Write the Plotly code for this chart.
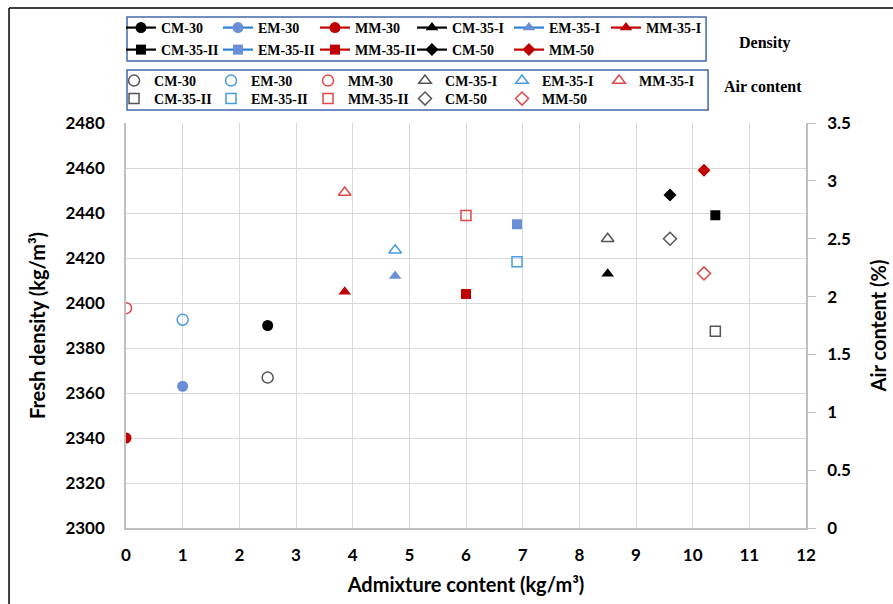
"""Fresh density and air content versus admixture content."""

import plotly.graph_objects as go

MIXES = ["CM-30", "EM-30", "MM-30", "CM-35-I", "EM-35-I", "MM-35-I",
         "CM-35-II", "EM-35-II", "MM-35-II", "CM-50", "MM-50"]
ADMIXTURE = [2.5, 1.0, 0.0, 8.5, 4.75, 3.86, 10.4, 6.9, 6.0, 9.6, 10.2]
DENSITY = [2390, 2363, 2340, 2413, 2412, 2405, 2439, 2435, 2404, 2448, 2459]
AIR_CONTENT = [1.3, 1.8, 1.9, 2.5, 2.4, 2.9, 1.7, 2.3, 2.7, 2.5, 2.2]

SYMBOLS = ["circle", "circle", "circle", "triangle-up", "triangle-up", "triangle-up",
           "square", "square", "square", "diamond", "diamond"]
FAMILY = ["black", "blue", "red", "black", "blue", "red",
          "black", "blue", "red", "black", "red"]

LINE_COLORS = {"black": "#000000", "blue": "#2E80D0", "red": "#C00000"}
FILL_COLORS = {"black": "#000000", "blue": "#6A8FD6", "red": "#C00000"}
OPEN_COLORS = {"black": "#555555", "blue": "#4A9BE0", "red": "#E04848"}
SIZES = {"circle": 11, "triangle-up": 11, "square": 10, "diamond": 10}

GRID = "#D9D9D9"
AXIS = "#BFBFBF"
BOX = "#4169AA"
SANS = "Lato, Arial, sans-serif"
SERIF = "Liberation Serif, Times New Roman, serif"
TICK_FONT = {"family": SANS, "size": 17, "color": "#000000", "weight": "bold"}
TITLE_FONT = {"family": SANS, "size": 20, "color": "#000000", "weight": "bold"}
LEGEND_FONT = {"family": SERIF, "size": 14, "color": "#000000", "weight": "bold"}

# 6 entries in the first row, the rest in the second row of each legend box
ROW_SPLIT = 6

fig = go.Figure()

for i, (name, x, dens, sym, fam) in enumerate(zip(MIXES, ADMIXTURE, DENSITY, SYMBOLS, FAMILY)):
    fig.add_trace(
        go.Scatter(
            x=[x], y=[dens], name=name,
            legend="legend" if i < ROW_SPLIT else "legend2",
            mode="lines+markers",
            line={"color": LINE_COLORS[fam], "width": 2.2},
            marker={"symbol": sym, "size": SIZES[sym], "color": FILL_COLORS[fam]},
        )
    )

for i, (name, x, air, sym, fam) in enumerate(zip(MIXES, ADMIXTURE, AIR_CONTENT, SYMBOLS, FAMILY)):
    fig.add_trace(
        go.Scatter(
            x=[x], y=[air], name=name, yaxis="y2",
            legend="legend3" if i < ROW_SPLIT else "legend4",
            mode="markers",
            marker={"symbol": sym + "-open", "size": SIZES[sym],
                    "color": OPEN_COLORS[fam], "line": {"width": 1.5}},
        )
    )


def legend_row(x, y):
    return {
        "orientation": "h",
        "xanchor": "left",
        "yanchor": "middle",
        "x": x,
        "y": y,
        "entrywidth": 52,
        "entrywidthmode": "pixels",
        "borderwidth": 0,
        "bgcolor": "rgba(255,255,255,0)",
        "font": LEGEND_FONT,
        "itemclick": False,
        "itemdoubleclick": False,
    }


fig.update_layout(
    width=893,
    height=604,
    paper_bgcolor="white",
    plot_bgcolor="white",
    margin={"l": 126, "r": 87, "t": 123, "b": 76, "autoexpand": False},
    showlegend=True,
    legend=legend_row(-0.0074, 1.2346),
    legend2=legend_row(-0.0074, 1.1802),
    legend3=legend_row(-0.0176, 1.1037),
    legend4=legend_row(-0.0176, 1.0593),
    xaxis={
        "title": {"text": "Admixture content (kg/m³)", "font": TITLE_FONT, "standoff": 14},
        "range": [0, 12], "dtick": 1,
        "showgrid": True, "gridcolor": GRID, "gridwidth": 1,
        "showline": True, "linecolor": AXIS, "linewidth": 1.5,
        "zeroline": False, "ticks": "",
        "tickfont": TICK_FONT, "ticklabelstandoff": 11,
    },
    yaxis={
        "title": {"text": "Fresh density (kg/m³)", "font": TITLE_FONT, "standoff": 14},
        "range": [2300, 2480], "dtick": 20,
        "showgrid": True, "gridcolor": GRID, "gridwidth": 1,
        "showline": True, "linecolor": AXIS, "linewidth": 1.5,
        "zeroline": False, "ticks": "",
        "tickfont": TICK_FONT, "ticklabelstandoff": 16,
    },
    yaxis2={
        "title": {"text": "Air content (%)", "font": TITLE_FONT, "standoff": 22},
        "range": [0, 3.5], "dtick": 0.5,
        "overlaying": "y", "side": "right",
        "showgrid": False, "zeroline": False,
        "showline": True, "linecolor": AXIS, "linewidth": 1.5,
        "ticks": "outside", "ticklen": 8, "tickcolor": AXIS,
        "tickfont": TICK_FONT, "ticklabelstandoff": 8,
    },
)

# Boxes around the two legends
fig.add_shape(type="rect", xref="paper", yref="paper",
              x0=0.0015, x1=0.853, y0=1.153, y1=1.2617,
              line={"color": BOX, "width": 1.5})
fig.add_shape(type="rect", xref="paper", yref="paper",
              x0=0.0015, x1=0.856, y0=1.032, y1=1.131,
              line={"color": BOX, "width": 1.5})

# Group labels next to the two legends
for text, xpos, ypos in [("Density", 0.9397, 1.1975), ("Air content", 0.9368, 1.0889)]:
    fig.add_annotation(
        text=text, xref="paper", yref="paper",
        x=xpos, y=ypos, xanchor="center", yanchor="middle", showarrow=False,
        font={"family": SERIF, "size": 16, "color": "#000000", "weight": "bold"},
    )

# Outer frame lines (left and top edges of the original figure)
fig.add_shape(type="line", xref="paper", yref="paper",
              x0=-0.172, x1=-0.172, y0=-0.2, y1=1.284,
              line={"color": "#000000", "width": 1.5})
fig.add_shape(type="line", xref="paper", yref="paper",
              x0=-0.172, x1=1.14, y0=1.284, y1=1.284,
              line={"color": "#000000", "width": 1.5})

fig.write_html(
    "out.html",
    config={"displayModeBar": False},
    post_script="document.body.style.margin='0px';",
)
